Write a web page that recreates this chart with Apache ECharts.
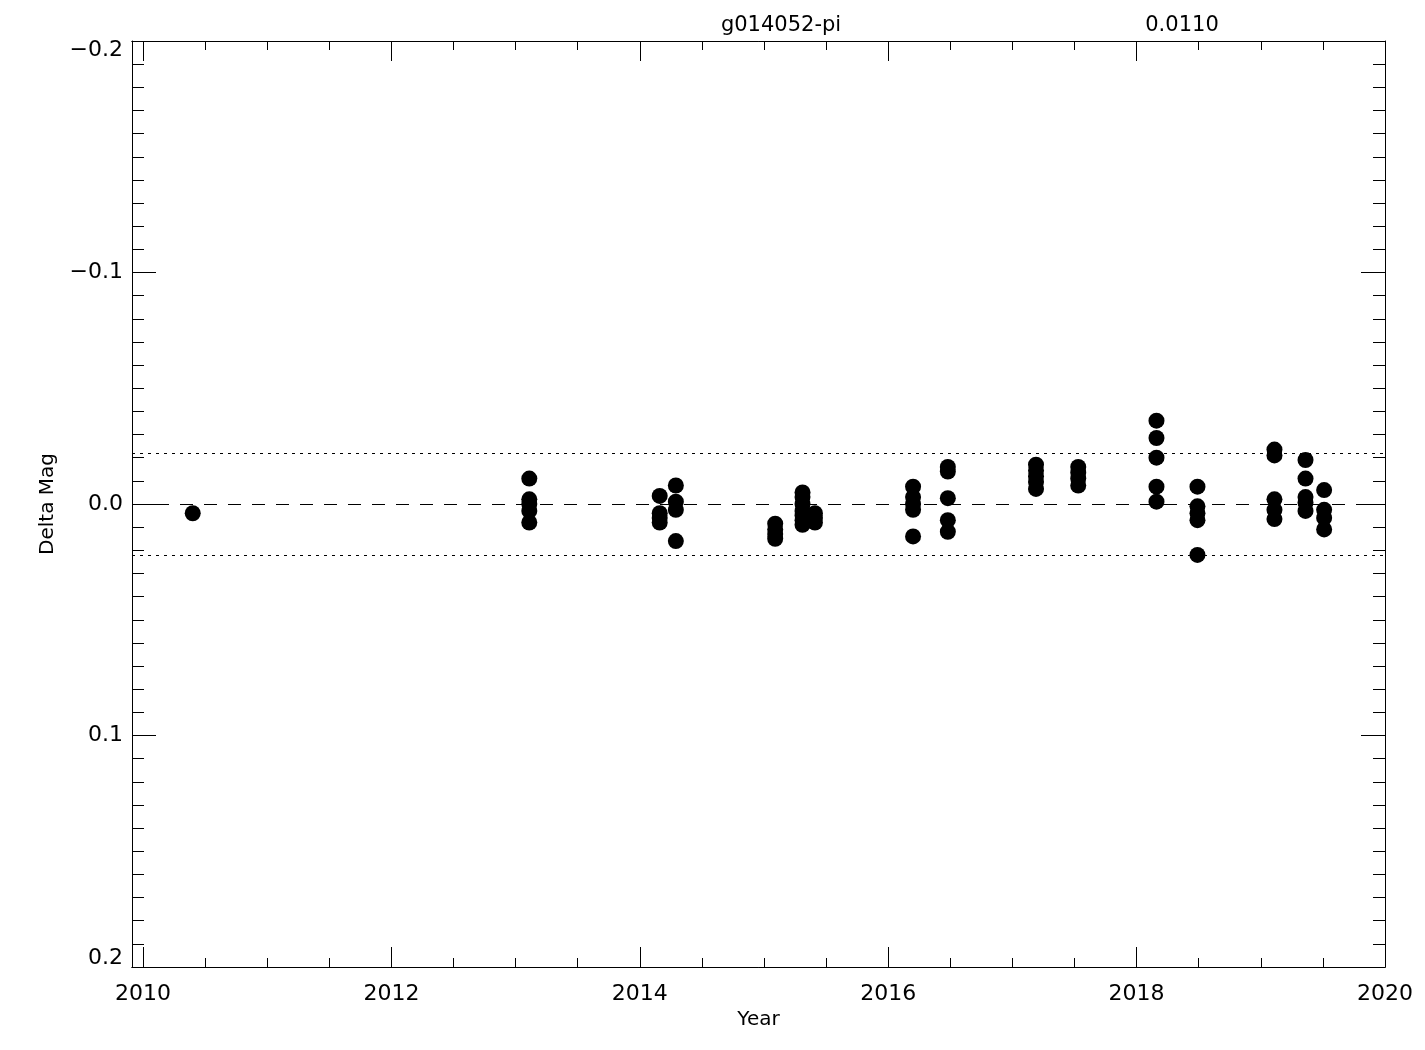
<!DOCTYPE html>
<html>
<head>
<meta charset="utf-8">
<script src="https://cdn.jsdelivr.net/npm/echarts@6/dist/echarts.min.js"></script>
<style>
  html, body { margin: 0; padding: 0; background: #ffffff; }
  #chart { width: 1425px; height: 1050px; }
</style>
</head>
<body>
<div id="chart"></div>
<script>
// ---- data ----
const epochs = [2010.40, 2013.11, 2014.16, 2014.29, 2015.09, 2015.31, 2015.41, 2016.20, 2016.48, 2017.19, 2017.53, 2018.16, 2018.49, 2019.11, 2019.36, 2019.51];
const epochMags = [
  [0.004],
  [-0.011, -0.002, 0.000, 0.003, 0.008],
  [-0.0035, 0.004, 0.006, 0.008],
  [-0.008, -0.001, 0.0025, 0.016],
  [0.0085, 0.011, 0.013, 0.015],
  [-0.005, -0.003, 0.000, 0.003, 0.005, 0.007, 0.009],
  [0.004, 0.006, 0.008],
  [-0.0075, -0.003, 0.000, 0.0025, 0.014],
  [-0.016, -0.014, -0.0025, 0.007, 0.012],
  [-0.017, -0.0145, -0.012, -0.0095, -0.0065],
  [-0.016, -0.0135, -0.011, -0.008],
  [-0.036, -0.0285, -0.020, -0.0075, -0.001],
  [-0.0075, 0.001, 0.004, 0.007, 0.022],
  [-0.0235, -0.021, -0.002, 0.0025, 0.0065],
  [-0.019, -0.011, -0.003, -0.0005, 0.003],
  [-0.006, 0.0025, 0.006, 0.011]
];
const zeroLine = [0.0];
const sigmaLines = [-0.022, 0.022];
const titleText = 'g014052-pi';
const sigmaText = '0.0110';
const xMajorTicks = [2010, 2012, 2014, 2016, 2018, 2020];
const xMinorTicks = [2010.5, 2011, 2011.5, 2012.5, 2013, 2013.5, 2014.5, 2015, 2015.5, 2016.5, 2017, 2017.5, 2018.5, 2019, 2019.5];
const xMin = 2009.911, xMax = 2020;
const yMin = -0.2, yMax = 0.2, yStep = 0.1;

// ---- build points ----
const points = [];
epochs.forEach((t, i) => epochMags[i].forEach(m => points.push([t, m])));

const FONT = 'DejaVu Sans';
const INK = '#000000';
const LABEL_SIZE = 22;
const fmtY = v => {
  const s = Math.abs(v).toFixed(1);
  const txt = (v < -1e-9 ? '\u2212' : '') + s;
  if (Math.abs(v - yMin) < 1e-9) return '{lo|' + txt + '}';
  if (Math.abs(v - yMax) < 1e-9) return '{hi|' + txt + '}';
  return '{n|' + txt + '}';
};
const richBase = { fontFamily: FONT, fontSize: LABEL_SIZE, color: INK };

function xAxisDef(pos, ticks, len, showLabels, name) {
  return {
    type: 'value', position: pos, min: xMin, max: xMax, offset: 0,
    name: name || '', nameLocation: 'middle', nameGap: 43,
    nameTextStyle: { fontFamily: FONT, fontSize: 20, color: INK },
    axisLine: { show: true, onZero: false, lineStyle: { color: INK, width: 1 } },
    axisTick: { show: true, inside: true, length: len, customValues: ticks, lineStyle: { color: INK, width: 1 } },
    axisLabel: showLabels ? { show: true, customValues: xMajorTicks, margin: 16, fontFamily: FONT, fontSize: LABEL_SIZE, color: INK, formatter: v => String(Math.round(v)) } : { show: false },
    splitLine: { show: false }
  };
}
function yAxisDef(pos, showLabels, name) {
  return {
    type: 'value', position: pos, inverse: true, min: yMin, max: yMax, interval: yStep, offset: 0,
    name: name || '', nameLocation: 'middle', nameGap: 74,
    nameTextStyle: { fontFamily: FONT, fontSize: 20, color: INK },
    axisLine: { show: true, onZero: false, lineStyle: { color: INK, width: 1 } },
    axisTick: { show: true, inside: true, length: 24, lineStyle: { color: INK, width: 1 } },
    minorTick: { show: true, splitNumber: 10, length: 12, lineStyle: { color: INK, width: 1 } },
    axisLabel: showLabels ? {
      show: true, margin: 9, fontFamily: FONT, fontSize: LABEL_SIZE, color: INK, formatter: fmtY,
      rich: {
        n: Object.assign({}, richBase),
        lo: Object.assign({ padding: [18, 0, 0, 0] }, richBase),
        hi: Object.assign({ padding: [0, 0, 18, 0] }, richBase)
      }
    } : { show: false },
    splitLine: { show: false }, minorSplitLine: { show: false }
  };
}

const chart = echarts.init(document.getElementById('chart'), null, { renderer: 'canvas' });
chart.setOption({
  animation: false,
  backgroundColor: '#ffffff',
  title: [
    { text: titleText, left: 776, top: 10, textAlign: 'center', textStyle: { fontFamily: FONT, fontSize: 21, fontWeight: 'normal', color: INK } },
    { text: sigmaText, left: 1177, top: 10, textAlign: 'center', textStyle: { fontFamily: FONT, fontSize: 21, fontWeight: 'normal', color: INK } }
  ],
  grid: { left: 132, right: 40, top: 41, bottom: 83, containLabel: false },
  xAxis: [
    xAxisDef('bottom', xMajorTicks, 20, true, 'Year'),
    xAxisDef('bottom', xMinorTicks, 9, false),
    xAxisDef('top', xMajorTicks, 20, false),
    xAxisDef('top', xMinorTicks, 9, false)
  ],
  yAxis: [
    yAxisDef('left', true, 'Delta Mag'),
    yAxisDef('right', false)
  ],
  series: [
    {
      type: 'scatter', xAxisIndex: 0, yAxisIndex: 0,
      data: points, symbol: 'circle', symbolSize: 16,
      itemStyle: { color: INK, opacity: 1 },
      markLine: {
        silent: true, symbol: 'none', precision: 4, label: { show: false },
        data: zeroLine.map(v => ({ yAxis: v, lineStyle: { type: [13, 11], color: INK, width: 1 } }))
          .concat(sigmaLines.map(v => ({ yAxis: v, lineStyle: { type: [3, 5], color: INK, width: 1 } })))
      }
    }
  ]
});
</script>
</body>
</html>
